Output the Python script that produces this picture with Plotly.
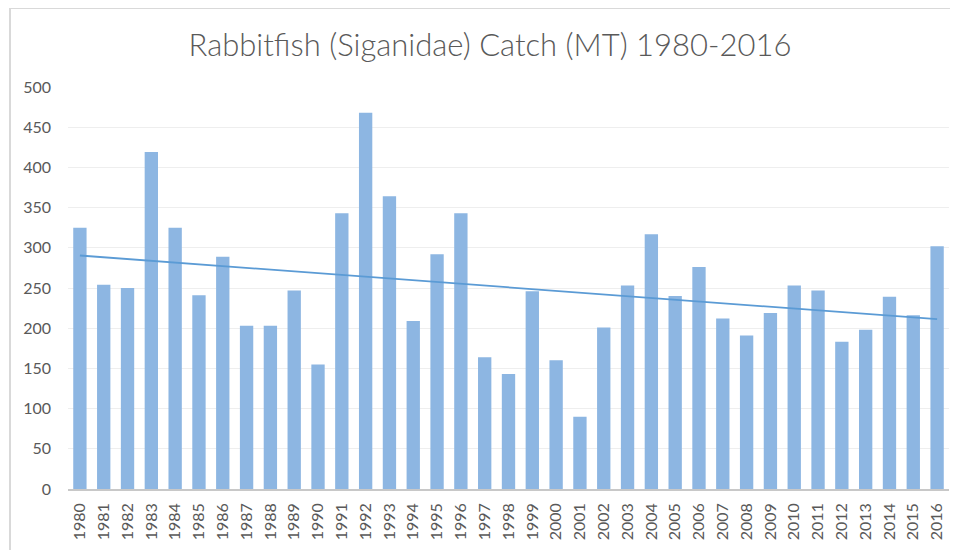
import numpy as np
import plotly.graph_objects as go

years = [str(y) for y in range(1980, 2017)]
catch = [325, 254, 250, 419, 325, 241, 289, 203, 203, 247, 155, 343, 468, 364,
         209, 292, 343, 164, 143, 246, 160, 90, 201, 253, 317, 240, 276, 212,
         191, 219, 253, 247, 183, 198, 239, 216, 302]

title_text = "Rabbitfish (Siganidae) Catch (MT) 1980-2016"
y_ticks = list(range(0, 501, 50))

# linear trendline (least squares on the series)
idx = np.arange(len(catch))
slope, intercept = np.polyfit(idx, catch, 1)
trend = (slope * idx + intercept).tolist()

fig = go.Figure()
fig.add_trace(go.Bar(x=years, y=catch, marker=dict(color="#8DB6E2", line=dict(width=0)),
                     showlegend=False))
fig.add_trace(go.Scatter(x=years, y=trend, mode="lines",
                         line=dict(color="#5B9BD5", width=1.8), showlegend=False))

# page body has an 8px margin; work in viewport coordinates and convert
OFF = 8
VW, VH = 958, 550
W, H = VW - OFF, VH - OFF
plot_l, plot_r, plot_t, plot_b = 68, 949, 87, 489   # viewport pixels
l, r, t, b = plot_l - OFF, VW - plot_r, plot_t - OFF, VH - plot_b
pw, ph = W - l - r, H - t - b

def px(x):
    return (x - OFF - l) / pw

def py(y):
    return (H - b - (y - OFF)) / ph

fig.update_layout(
    width=W, height=H,
    margin=dict(l=l, r=r, t=t, b=b),
    paper_bgcolor="white", plot_bgcolor="white",
    bargap=0.44,
    font=dict(family="Lato, 'Open Sans', sans-serif", color="#595959"),
    title=dict(text=title_text, x=px(490), xref="paper", xanchor="center",
               y=1 - (45 - OFF) / H, yanchor="middle",
               font=dict(size=31, color="#595959", weight=300,
                         family="Lato, 'Open Sans', sans-serif")),
    xaxis=dict(type="category", tickangle=-90, tickfont=dict(size=16, color="#595959"),
               showgrid=False, showline=True, linecolor="#C8C8C8", linewidth=1.5,
               ticks="", ticklabelstandoff=6),
    yaxis=dict(range=[0, 500], tickvals=y_ticks, tickfont=dict(size=16, color="#595959"),
               showgrid=True, gridcolor="#EEEEEE", gridwidth=1, zeroline=False,
               showline=False, ticks="", ticklabelstandoff=16),
    shapes=[
        dict(type="line", xref="paper", yref="paper", x0=px(10), x1=px(962),
             y0=py(8), y1=py(8), line=dict(color="#D9D9D9", width=2)),
        dict(type="line", xref="paper", yref="paper", x0=px(10), x1=px(10),
             y0=py(8), y1=py(560), line=dict(color="#D9D9D9", width=2)),
    ],
)

fig.write_html("out.html")
